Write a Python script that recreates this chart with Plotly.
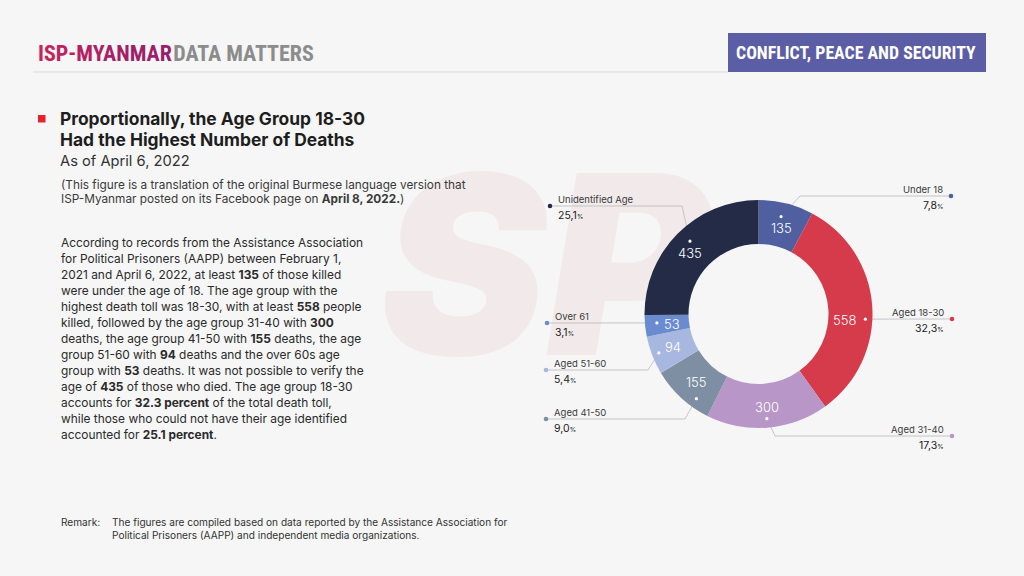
import math
import plotly.graph_objects as go

# ---------------- data ----------------
categories = ["Under 18", "Aged 18-30", "Aged 31-40", "Aged 41-50",
              "Aged 51-60", "Over 61", "Unidentified Age"]
deaths = [135, 558, 300, 155, 94, 53, 435]

title_lines = ["Proportionally, the Age Group 18-30", "Had the Highest Number of Deaths"]
subtitle = "As of April 6, 2022"
note_lines = ["(This figure is a translation of the original Burmese language version that",
              "ISP-Myanmar posted on its Facebook page on <b>April 8, 2022.</b>)"]
paragraph_lines = [
    "According to records from the Assistance Association",
    "for Political Prisoners (AAPP) between February 1,",
    "2021 and April 6, 2022, at least <b>135</b> of those killed",
    "were under the age of 18. The age group with the",
    "highest death toll was 18-30, with at least <b>558</b> people",
    "killed, followed by the age group 31-40 with <b>300</b>",
    "deaths, the age group 41-50 with <b>155</b> deaths, the age",
    "group 51-60 with <b>94</b> deaths and the over 60s age",
    "group with <b>53</b> deaths. It was not possible to verify the",
    "age of <b>435</b> of those who died. The age group 18-30",
    "accounts for <b>32.3 percent</b> of the total death toll,",
    "while those who could not have their age identified",
    "accounted for <b>25.1 percent</b>.",
]
remark_label = "Remark:"
remark_lines = ["The figures are compiled based on data reported by the Assistance Association for",
                "Political Prisoners (AAPP) and independent media organizations."]

# ---------------- styles / layout ----------------
colors = ["#4f5f9f", "#d63b4b", "#b896c7", "#7f8fa3", "#a8b7df", "#6b8bd1", "#232b47"]
W, H = 1024, 576
BG = "#f5f6f5"
CX, CY, R_OUT = 758.5, 314, 114
HOLE = 0.614
FONT = "Inter, Roboto, sans-serif"
COND = ("Noto Sans ExtraCondensed, Noto Sans Display ExtraCondensed, Roboto Condensed, "
        "Noto Sans Condensed, Liberation Sans Narrow, DejaVu Sans Condensed, sans-serif")
STRETCH = "font-stretch:extra-condensed"

# label placement (pixel layout) per slice
dot_r = [100, 107, 105, 105, 107, 102, 100]
dot_nudge = [-1, 6.6, 0, -6.5, 0, 1, 2]
val_off = [(0, 11), (-7, 1), (0, -12), (0, -17), (4, -6), (5, 1), (0, 12)]
# (outer dot x, outer dot y, elbow x, side)
outer = [(951, 196, 800, "r"), (952, 319, None, "r"), (952, 436, 775, "r"),
         (546, 419, 685, "l"), (546, 370, 648, "l"), (547, 323, None, "l"),
         (550, 206, 682, "l")]

total = sum(deaths)
fig = go.Figure()

# watermark (under the pie)
fig.add_trace(go.Scatter(x=[545], y=[292], mode="text", text=["<i>SP</i>"],
                         textfont=dict(size=250, color="#f2eaea", family="Inter", weight=900),
                         hoverinfo="skip", showlegend=False))

# pie
fig.add_trace(go.Pie(
    labels=categories, values=deaths, sort=False, direction="clockwise", rotation=0,
    hole=HOLE, marker=dict(colors=colors, line=dict(width=0)), textinfo="none",
    hoverinfo="label+value", showlegend=False,
    domain=dict(x=[(CX - R_OUT) / W, (CX + R_OUT) / W],
                y=[1 - (CY + R_OUT) / H, 1 - (CY - R_OUT) / H]),
))

annotations = []
shapes = []
cum = 0
for i, (cat, v) in enumerate(zip(categories, deaths)):
    mid = (cum + v / 2) / total * 360 + dot_nudge[i]
    cum += v
    th = math.radians(mid)
    sx = CX + dot_r[i] * math.sin(th)
    sy = CY - dot_r[i] * math.cos(th)
    ox, oy, ex, side = outer[i]
    xs = [ox] + ([ex] if ex is not None else []) + [sx]
    ys = [oy] + ([oy] if ex is not None else []) + [sy]
    fig.add_trace(go.Scatter(x=xs, y=ys, mode="lines", line=dict(color="#b9b9b9", width=0.8),
                             hoverinfo="skip", showlegend=False))
    shapes.append(dict(type="circle", xref="x", yref="y", x0=sx - 1.6, x1=sx + 1.6,
                       y0=sy - 1.6, y1=sy + 1.6, fillcolor="white", line=dict(width=0),
                       layer="above"))
    shapes.append(dict(type="circle", xref="x", yref="y", x0=ox - 2.3, x1=ox + 2.3,
                       y0=oy - 2.3, y1=oy + 2.3, fillcolor=colors[i], line=dict(width=0),
                       layer="above"))
    dx, dy = val_off[i]
    xa = "center" if dx == 0 else ("right" if dx < 0 else "left")
    annotations.append(dict(x=sx + dx, y=sy + dy, xref="x", yref="y", text=str(v),
                            showarrow=False, xanchor=xa, yanchor="middle",
                            font=dict(family=FONT, size=13, color="white", weight=300)))
    pct = f"{v / total * 100:.1f}".replace(".", ",")
    if side == "r":
        tx, anc = ox - 6, "right"
    else:
        tx, anc = ox + 6, "left"
    annotations.append(dict(x=tx, y=oy - 7, xref="x", yref="y", text=cat, showarrow=False,
                            xanchor=anc, yanchor="middle",
                            font=dict(family=FONT, size=9.5, color="#3a3a3a")))
    annotations.append(dict(x=tx, y=oy + 9, xref="x", yref="y",
                            text=pct + "<span style='font-size:6.5px'>%</span>",
                            showarrow=False, xanchor=anc, yanchor="middle",
                            font=dict(family=FONT, size=10.5, color="#222222")))

# header
grad = ["#c8245a", "#c4235c", "#bf225e", "#ba2260", "#b52162", "#b02164",
        "#aa2066", "#a51f68", "#a01f6a", "#9c1e6c", "#981e6e"]
isp = "".join(f"<span style='color:{grad[k]};{STRETCH}'>{ch}</span>"
              for k, ch in enumerate("ISP-MYANMAR"))
annotations.append(dict(x=36, y=53, xref="x", yref="y", showarrow=False, xanchor="left",
                        yanchor="middle",
                        text=(f"<b>{isp}</b><span style='font-size:6px'> </span>"
                              f"<b><span style='color:#8c8c8c;{STRETCH}'>DATA MATTERS</span></b>"),
                        font=dict(family=COND, size=22)))
shapes.append(dict(type="line", xref="x", yref="y", x0=33, x1=728, y0=72, y1=72,
                   line=dict(color="#d9d9d9", width=1), layer="above"))
shapes.append(dict(type="rect", xref="x", yref="y", x0=728, x1=986, y0=33, y1=72,
                   fillcolor="#5b5da5", line=dict(width=0), layer="above"))
annotations.append(dict(x=856, y=52.5, xref="x", yref="y", showarrow=False,
                        text=f"<b><span style='{STRETCH}'>CONFLICT, PEACE AND SECURITY</span></b>",
                        font=dict(family=COND, size=17.8, color="white")))

# title block
shapes.append(dict(type="rect", xref="x", yref="y", x0=38, x1=45.5, y0=115, y1=122.5,
                   fillcolor="#e8212e", line=dict(width=0), layer="above"))
for k, t in enumerate(title_lines):
    annotations.append(dict(x=58, y=118 + 21.5 * k, xref="x", yref="y", showarrow=False,
                            xanchor="left", yanchor="middle", text=f"<b>{t}</b>",
                            font=dict(family=FONT, size=17.4, color="#1e1e1e")))
annotations.append(dict(x=58, y=161, xref="x", yref="y", showarrow=False, xanchor="left",
                        yanchor="middle", text=subtitle,
                        font=dict(family=FONT, size=14.7, color="#333333")))
for k, t in enumerate(note_lines):
    annotations.append(dict(x=59, y=185 + 14 * k, xref="x", yref="y", showarrow=False,
                            xanchor="left", yanchor="middle", text=t,
                            font=dict(family=FONT, size=11.8, color="#3a3a3a")))
for k, t in enumerate(paragraph_lines):
    annotations.append(dict(x=59, y=242 + 16 * k, xref="x", yref="y", showarrow=False,
                            xanchor="left", yanchor="middle", text=t,
                            font=dict(family=FONT, size=11.9, color="#2a2a2a")))
annotations.append(dict(x=59, y=522, xref="x", yref="y", showarrow=False, xanchor="left",
                        yanchor="middle", text=remark_label,
                        font=dict(family=FONT, size=10.1, color="#333333")))
for k, t in enumerate(remark_lines):
    annotations.append(dict(x=110, y=522 + 12.5 * k, xref="x", yref="y", showarrow=False,
                            xanchor="left", yanchor="middle", text=t,
                            font=dict(family=FONT, size=10.1, color="#333333")))

fig.update_layout(
    width=W, height=H, margin=dict(l=0, r=0, t=0, b=0),
    paper_bgcolor=BG, plot_bgcolor=BG,
    xaxis=dict(range=[0, W], visible=False, fixedrange=True),
    yaxis=dict(range=[H, 0], visible=False, fixedrange=True),
    shapes=shapes, annotations=annotations, showlegend=False,
)
fig.write_html("out.html", config={"displayModeBar": False},
               post_script="document.body.style.margin='0';document.body.style.background='#f5f6f5';")
